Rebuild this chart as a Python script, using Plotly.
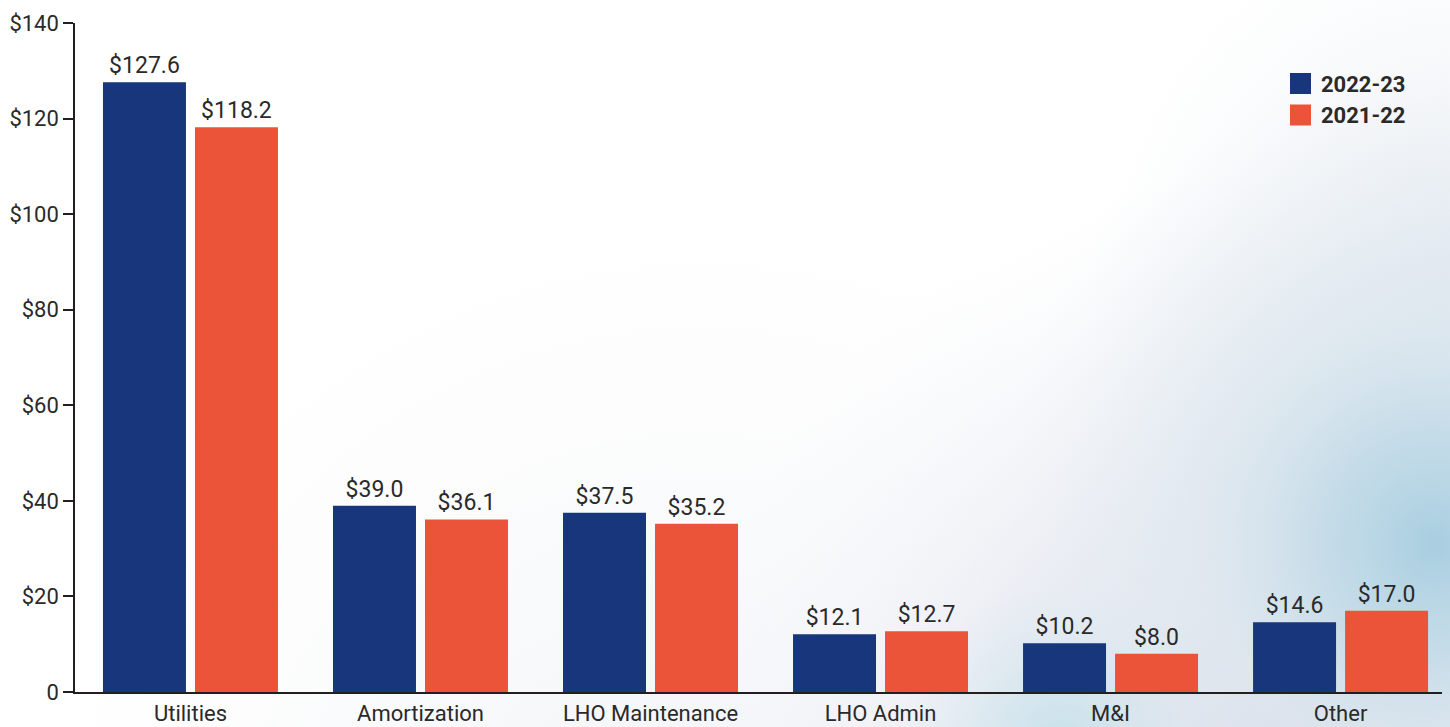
import base64
import plotly.graph_objects as go

# Expense categories and the two fiscal years shown (millions of dollars)
categories = ["Utilities", "Amortization", "LHO Maintenance", "LHO Admin", "M&I", "Other"]
series_names = ["2022-23", "2021-22"]
values_2022_23 = [127.6, 39.0, 37.5, 12.1, 10.2, 14.6]
values_2021_22 = [118.2, 36.1, 35.2, 12.7, 8.0, 17.0]
y_tick_values = [0, 20, 40, 60, 80, 100, 120, 140]
y_tick_labels = ["0", "$20", "$40", "$60", "$80", "$100", "$120", "$140"]

BLUE = "#17367c"
ORANGE = "#ec543a"
INK = "#2a2a2a"
FONT = "Roboto, Arial, sans-serif"

W, H = 1450, 727
M_L, M_R, M_T, M_B = 75, 8, 23, 35
PW, PH = W - M_L - M_R, H - M_T - M_B


def px_to_paper(px, py):
    return (px - M_L) / PW, (H - M_B - py) / PH


# Soft bluish haze in the lower right of the page
haze_svg = f"""<svg xmlns='http://www.w3.org/2000/svg' width='{W}' height='{H}' viewBox='0 0 {W} {H}' preserveAspectRatio='none'>
<defs>
<radialGradient id='g1' cx='1300' cy='780' r='620' gradientUnits='userSpaceOnUse'>
<stop offset='0' stop-color='#d2d6e5' stop-opacity='1'/>
<stop offset='0.5' stop-color='#e2e6ef' stop-opacity='0.75'/>
<stop offset='1' stop-color='#f4f6f9' stop-opacity='0'/>
</radialGradient>
<radialGradient id='g6' cx='1420' cy='500' r='420' gradientUnits='userSpaceOnUse'>
<stop offset='0' stop-color='#cfe0ea' stop-opacity='0.95'/>
<stop offset='0.55' stop-color='#dfe8ef' stop-opacity='0.7'/>
<stop offset='1' stop-color='#eef2f6' stop-opacity='0'/>
</radialGradient>
<radialGradient id='g2' cx='1435' cy='545' r='240' gradientUnits='userSpaceOnUse'>
<stop offset='0' stop-color='#a6cde0' stop-opacity='0.95'/>
<stop offset='0.5' stop-color='#bcd8e6' stop-opacity='0.6'/>
<stop offset='1' stop-color='#d6e6ee' stop-opacity='0'/>
</radialGradient>
<radialGradient id='g3' cx='1060' cy='745' r='160' gradientUnits='userSpaceOnUse'>
<stop offset='0' stop-color='#c3e0ea' stop-opacity='0.9'/>
<stop offset='1' stop-color='#d8eaf0' stop-opacity='0'/>
</radialGradient>
<radialGradient id='g4' cx='1470' cy='280' r='380' gradientUnits='userSpaceOnUse'>
<stop offset='0' stop-color='#dfe6ee' stop-opacity='0.95'/>
<stop offset='1' stop-color='#f2f5f8' stop-opacity='0'/>
</radialGradient>
<radialGradient id='g5' cx='700' cy='900' r='700' gradientUnits='userSpaceOnUse'>
<stop offset='0' stop-color='#eceef3' stop-opacity='0.8'/>
<stop offset='1' stop-color='#f6f7f9' stop-opacity='0'/>
</radialGradient>
</defs>
<rect width='{W}' height='{H}' fill='#ffffff'/>
<rect width='{W}' height='{H}' fill='url(#g5)'/>
<rect width='{W}' height='{H}' fill='url(#g4)'/>
<rect width='{W}' height='{H}' fill='url(#g1)'/>
<rect width='{W}' height='{H}' fill='url(#g6)'/>
<rect width='{W}' height='{H}' fill='url(#g2)'/>
<rect width='{W}' height='{H}' fill='url(#g3)'/>
</svg>"""
haze_uri = "data:image/svg+xml;base64," + base64.b64encode(haze_svg.encode()).decode()

fig = go.Figure()
for name, vals, color in [
    (series_names[0], values_2022_23, BLUE),
    (series_names[1], values_2021_22, ORANGE),
]:
    fig.add_trace(
        go.Bar(
            x=categories,
            y=vals,
            name=name,
            marker=dict(color=color, line=dict(width=0)),
            text=[f"${v:.1f}" for v in vals],
            textposition="outside",
            constraintext="none",
            textfont=dict(family=FONT, size=23, color=INK),
            cliponaxis=False,
            showlegend=False,
        )
    )

# Legend drawn as large square swatches with bold labels
legend_shapes = []
legend_notes = []
for i, (name, color) in enumerate(zip(series_names, [BLUE, ORANGE])):
    top = 73 + i * 31.5
    x0, y0 = px_to_paper(1290, top + 21)
    x1, y1 = px_to_paper(1311, top)
    legend_shapes.append(
        dict(type="rect", xref="paper", yref="paper", x0=x0, y0=y0, x1=x1, y1=y1,
             fillcolor=color, line=dict(width=0))
    )
    tx, ty = px_to_paper(1319, top + 11)
    legend_notes.append(
        dict(xref="paper", yref="paper", x=tx, y=ty, xanchor="left", yanchor="middle",
             text=f"<b>{name}</b>", showarrow=False,
             font=dict(family=FONT, size=22, color=INK))
    )

fig.update_layout(
    width=W,
    height=H,
    margin=dict(l=M_L, r=M_R, t=M_T, b=M_B, pad=0, autoexpand=False),
    paper_bgcolor="rgba(0,0,0,0)",
    plot_bgcolor="rgba(0,0,0,0)",
    barmode="group",
    bargap=0.2,
    bargroupgap=0.098,
    showlegend=False,
    font=dict(family=FONT, size=22, color=INK),
    shapes=legend_shapes,
    annotations=legend_notes,
    images=[
        dict(source=haze_uri, xref="paper", yref="paper",
             x=-M_L / PW, y=1 + M_T / PH, sizex=W / PW, sizey=H / PH,
             xanchor="left", yanchor="top", sizing="stretch", layer="below")
    ],
)
fig.update_xaxes(
    range=[-0.502, 5.441],
    showgrid=False,
    zeroline=False,
    showline=True,
    linecolor="#231f20",
    linewidth=1.5,
    ticks="",
    ticklabelstandoff=1,
    automargin=False,
    tickfont=dict(family=FONT, size=22, color=INK),
    fixedrange=True,
)
fig.update_yaxes(
    range=[0, 140],
    tickvals=y_tick_values,
    ticktext=y_tick_labels,
    showgrid=False,
    zeroline=False,
    showline=True,
    linecolor="#231f20",
    linewidth=1.5,
    ticks="outside",
    ticklen=10,
    tickwidth=1.5,
    tickcolor="#231f20",
    automargin=False,
    tickfont=dict(family=FONT, size=22, color=INK),
    fixedrange=True,
)

fig.write_html("out.html")
